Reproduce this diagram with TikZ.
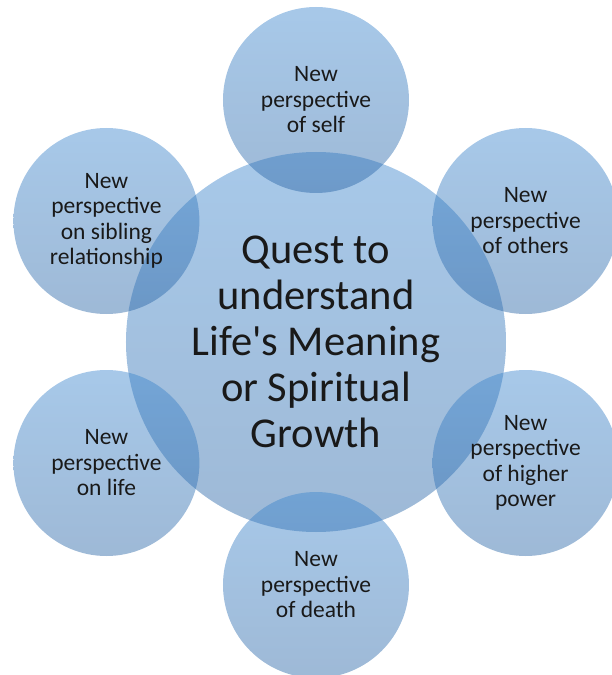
\documentclass[tikz,border=0pt]{standalone}
\usepackage{fontspec}
\setmainfont{Carlito}
\usepackage{xcolor}
\usetikzlibrary{positioning}

\definecolor{bubbletop}{RGB}{60,134,206}
\definecolor{bubblebot}{RGB}{40,100,165}

\begin{document}
\begin{tikzpicture}[
    x=1pt, y=1pt,
    bubble/.style={circle, inner sep=0pt, align=center, top color=bubbletop, bottom color=bubblebot,
                   fill opacity=0.45, text opacity=1, text=black!90},
    hub/.style={bubble, minimum size=380pt, font=\fontsize{42.5}{46}\selectfont},
    spoke/.style={bubble, minimum size=186pt, font=\fontsize{23.5}{25.5}\selectfont}
]
\useasboundingbox (-316,-333) rectangle (295,342);

% Nodes
\node (quest) [hub] at (0,0) {Quest to\\understand\\Life\textquotesingle s Meaning\\or Spiritual\\Growth};
\node (self) [spoke] at (90:242) {New\\perspective\\of self};
\node (others) [spoke] at (30:242) {New\\perspective\\of others};
\node (power) [spoke] at (-30:242) {New\\perspective\\of higher\\power};
\node (death) [spoke] at (-90:243) {New\\perspective\\of death};
\node (life) [spoke] at (-150:242) {New\\perspective\\on life};
\node (sibling) [spoke] at (150:242) {New\\perspective\\on sibling\\relationship};

\end{tikzpicture}
\end{document}
